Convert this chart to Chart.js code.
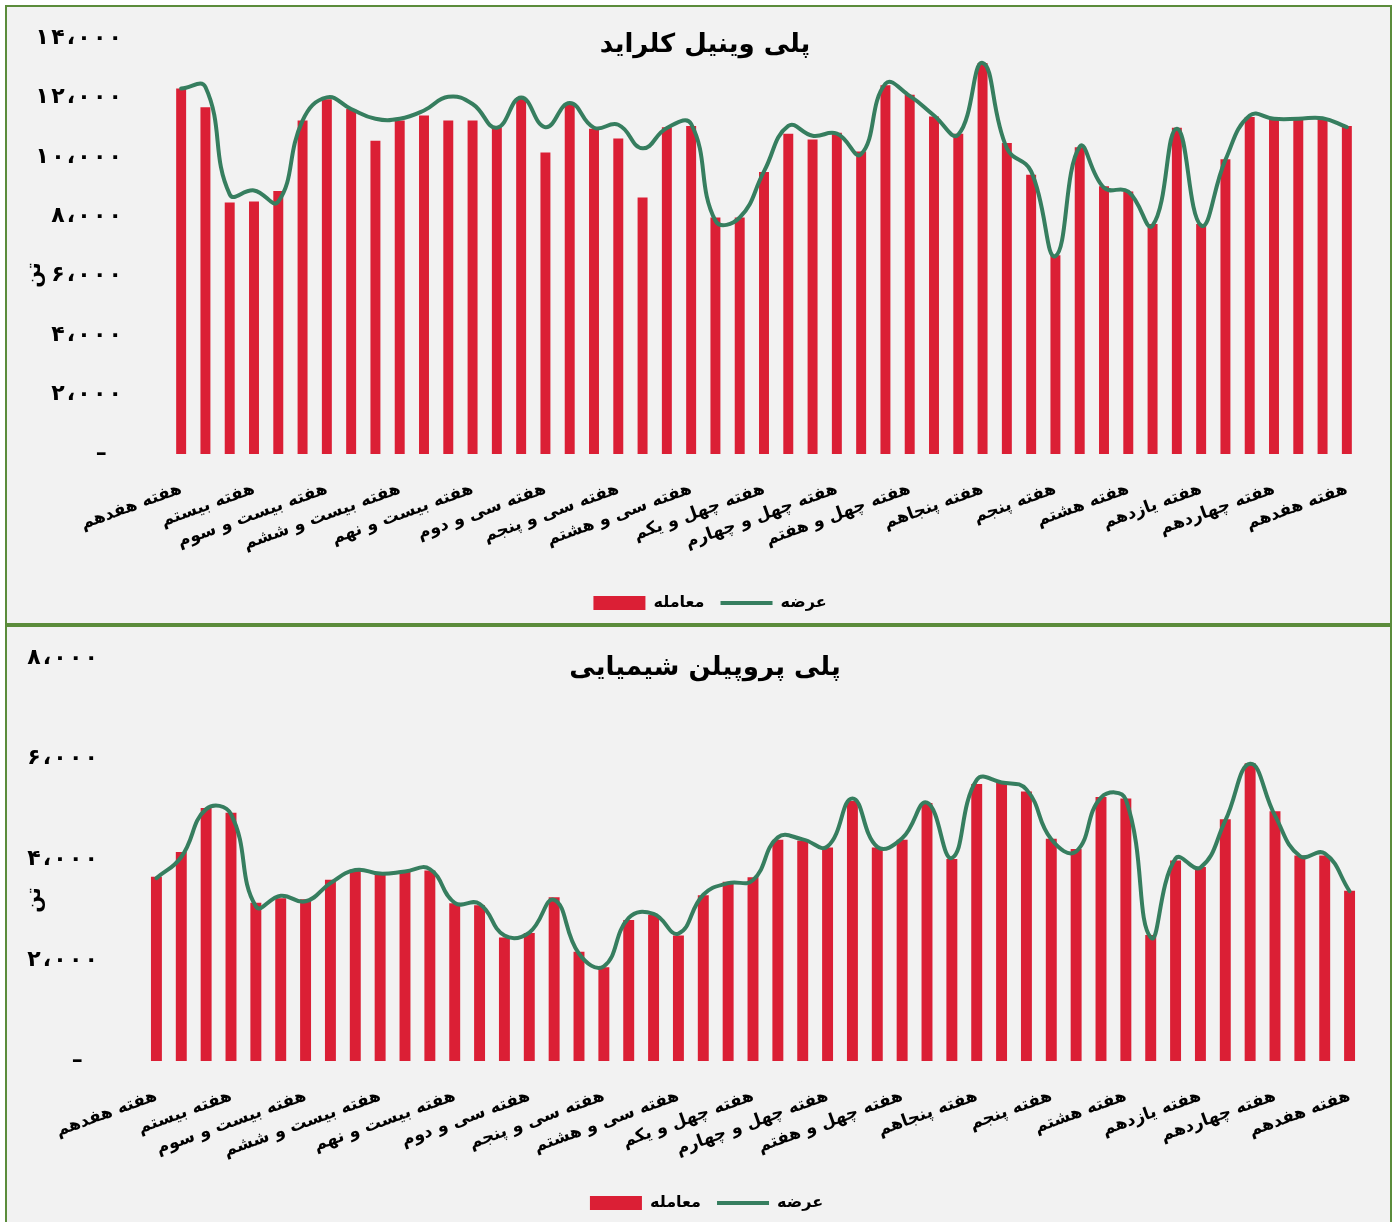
<!DOCTYPE html>
<html lang="fa">
<head>
<meta charset="utf-8">
<script src="https://cdn.jsdelivr.net/npm/chart.js@4.4.1/dist/chart.umd.min.js"></script>
<style>
  html, body { margin: 0; padding: 0; background: #ffffff; }
  .box {
    position: absolute; left: 5px; width: 1387px; height: 620px;
    box-sizing: border-box; border: 2px solid #5b8c3b; background: #f2f2f2;
  }
  .box canvas { position: absolute; left: 0; top: 0; }
</style>
</head>
<body>
<div class="box" style="top:5px"><canvas id="pvcChart" width="1383" height="616"></canvas></div>
<div class="box" style="top:625px"><canvas id="ppChart" width="1383" height="616"></canvas></div>
<script>
// weeks: 17 .. 52, then 5 .. 17 of the next year
const weeks = [
  'هفدهم', 'هجدهم', 'نوزدهم', 'بیستم', 'بیست و یکم', 'بیست و دوم', 'بیست و سوم',
  'بیست و چهارم', 'بیست و پنجم', 'بیست و ششم', 'بیست و هفتم', 'بیست و هشتم', 'بیست و نهم',
  'سی ام', 'سی و یکم', 'سی و دوم', 'سی و سوم', 'سی و چهارم', 'سی و پنجم', 'سی و ششم',
  'سی و هفتم', 'سی و هشتم', 'سی و نهم', 'چهلم', 'چهل و یکم', 'چهل و دوم', 'چهل و سوم',
  'چهل و چهارم', 'چهل و پنجم', 'چهل و ششم', 'چهل و هفتم', 'چهل و هشتم', 'چهل و نهم',
  'پنجاهم', 'پنجاه و یکم', 'پنجاه و دوم', 'پنجم', 'ششم', 'هفتم', 'هشتم', 'نهم', 'دهم',
  'یازدهم', 'دوازدهم', 'سیزدهم', 'چهاردهم', 'پانزدهم', 'شانزدهم', 'هفدهم'
];

// پلی وینیل کلراید (تن)
const pvcTrade = [
  12300, 11670, 8460, 8500, 8850, 11220, 11940, 11610, 10540, 11220, 11390, 11220, 11220,
  11000, 12000, 10150, 11780, 10950, 10620, 8630, 11000, 11040, 7960, 7960, 9490,
  10780, 10580, 10810, 10180, 12410, 12090, 11360, 10780, 13160, 10470, 9400, 6690,
  10320, 9010, 8830, 7740, 10980, 7740, 9920, 11340, 11280, 11280, 11280, 11040
];
const pvcSupply = [
  12300, 12350, 8740, 8870, 8490, 11220, 12000, 11610, 11280, 11280, 11560, 12020, 11780,
  10980, 12000, 11000, 11810, 10980, 11080, 10290, 10970, 11110, 7850, 7960, 9510,
  11040, 10710, 10780, 10090, 12460, 12050, 11390, 10750, 13160, 10290, 9510, 6660,
  10340, 8960, 8830, 7690, 10950, 7690, 9900, 11390, 11280, 11280, 11300, 11000
];

// پلی پروپیلن شیمیایی (تن)
const ppTrade = [
  3660, 4150, 5020, 4930, 3140, 3230, 3210, 3600, 3800, 3720, 3760, 3780, 3130,
  3090, 2450, 2540, 3250, 2170, 1860, 2800, 2900, 2490, 3290, 3560, 3650,
  4390, 4370, 4240, 5160, 4240, 4390, 5120, 4010, 5500, 5530, 5350, 4410,
  4210, 5240, 5210, 2500, 3980, 3850, 4800, 5910, 4960, 4080, 4080, 3380
];
const ppSupply = [
  3630, 4050, 5000, 4900, 3070, 3280, 3170, 3530, 3790, 3720, 3760, 3810, 3140,
  3120, 2490, 2550, 3200, 2130, 1880, 2840, 2920, 2530, 3300, 3530, 3590,
  4440, 4400, 4260, 5210, 4250, 4420, 5130, 4030, 5580, 5530, 5390, 4400,
  4160, 5230, 5190, 2450, 4020, 3840, 4770, 5900, 4870, 4070, 4120, 3370
];

const seriesNames = ['عرضه', 'معامله'];
const unitLabel = 'تن';
const FONT = '"DejaVu Sans", sans-serif';
const RED = '#db1f35';
const GREEN = '#367e5f';

const faDigits = '۰۱۲۳۴۵۶۷۸۹';
function faNumber(v) {
  if (v === 0) return '–  ';
  const s = Math.round(v).toString().replace(/\B(?=(\d{3})+(?!\d))/g, '،');
  // hair spaces to get the wide digit spacing of the original
  return s.replace(/\d/g, d => faDigits[d]).split('').join('\u200A');
}

const overlayText = {
  id: 'overlayText',
  afterLayout(chart, args, o) {
    const lg = chart.legend;
    if (lg) { lg.left += o.legendShift; lg.right += o.legendShift; }
  },
  afterDraw(chart, args, o) {
    const ctx = chart.ctx;
    ctx.save();
    ctx.fillStyle = '#000';
    ctx.textAlign = 'center';
    ctx.textBaseline = 'middle';
    ctx.font = 'bold 26px ' + FONT;
    ctx.fillText(o.title, o.titleX, o.titleY);
    ctx.translate(o.unitX, o.unitY);
    ctx.rotate(-Math.PI / 2);
    ctx.font = 'bold 20px ' + FONT;
    ctx.fillText(unitLabel, 0, 0);
    ctx.restore();
  }
};

function makeChart(id, g) {
  return new Chart(document.getElementById(id), {
    type: 'bar',
    data: {
      labels: weeks,
      datasets: [
        {
          type: 'line', label: seriesNames[0], data: g.supply,
          borderColor: GREEN, backgroundColor: GREEN, borderWidth: 4,
          pointRadius: 0, pointStyle: 'line', tension: 0.45,
          borderCapStyle: 'round', borderJoinStyle: 'round'
        },
        {
          type: 'bar', label: seriesNames[1], data: g.trade,
          backgroundColor: RED, pointStyle: 'rect',
          barPercentage: g.barPct, categoryPercentage: 1
        }
      ]
    },
    options: {
      responsive: false,
      animation: false,
      devicePixelRatio: 1,
      layout: { padding: g.padding },
      scales: {
        x: {
          grid: { display: false, drawTicks: false },
          border: { display: false },
          afterFit: s => { s.height = g.xHeight; },
          ticks: {
            autoSkip: false, minRotation: 20, maxRotation: 20, padding: 25,
            color: '#000', font: { family: FONT, size: 17, weight: 'bold' },
            callback: (v, i) => (i % 3 === 0 ? 'هفته ' + weeks[i] : '')
          }
        },
        y: {
          min: 0, max: g.yMax,
          grid: { display: false, drawTicks: false },
          border: { display: false },
          afterFit: s => { s.width = g.yWidth; s.paddingTop = 0; s.paddingBottom = 0; },
          ticks: {
            stepSize: 2000, padding: g.yPad, color: '#000',
            font: { family: FONT, size: 22, weight: 'bold' },
            callback: v => faNumber(v)
          }
        }
      },
      plugins: {
        legend: {
          position: 'bottom', reverse: true,
          labels: {
            usePointStyle: true, pointStyleWidth: 52, boxHeight: 14, padding: 16,
            color: '#000', font: { family: FONT, size: 16, weight: 'bold' }
          }
        },
        tooltip: { enabled: false },
        overlayText: g.overlay
      }
    },
    plugins: [overlayText]
  });
}

makeChart('pvcChart', {
  trade: pvcTrade, supply: pvcSupply, yMax: 14000, barPct: 0.41,
  padding: { left: 0, right: 31, top: 31, bottom: 2 },
  yWidth: 162, yPad: 47, xHeight: 125,
  overlay: { title: 'پلی وینیل کلراید', titleX: 698, titleY: 38, unitX: 28, unitY: 268, legendShift: 27 }
});

makeChart('ppChart', {
  trade: ppTrade, supply: ppSupply, yMax: 8000, barPct: 0.44,
  padding: { left: 0, right: 28, top: 31, bottom: 22 },
  yWidth: 137, yPad: 46, xHeight: 118,
  overlay: { title: 'پلی پروپیلن شیمیایی', titleX: 698, titleY: 41, unitX: 28, unitY: 273, legendShift: 22 }
});
</script>
</body>
</html>
